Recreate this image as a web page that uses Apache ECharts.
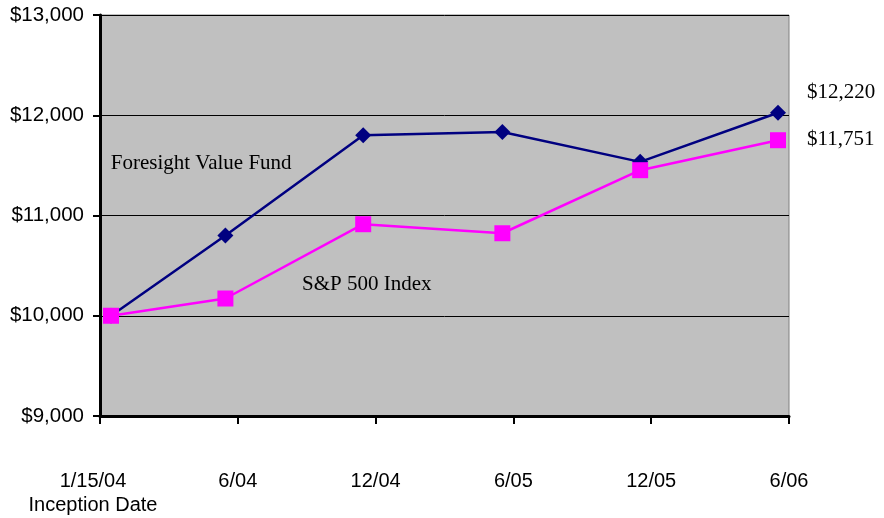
<!DOCTYPE html>
<html>
<head>
<meta charset="utf-8">
<style>
  html, body { margin: 0; padding: 0; background: #fff; }
  #chart-container { width: 884px; height: 518px; }
</style>
<script src="https://cdn.jsdelivr.net/npm/echarts@6/dist/echarts.min.js"></script>
</head>
<body>
<div id="chart-container"></div>
<script>
// tick labels along the bottom (one per half-year tick)
var tickLabels = ['1/15/04\nInception Date', '6/04', '12/04', '6/05', '12/05', '6/06'];
// where each valuation falls along the time axis (in tick units)
var pointPos = [0.08, 0.91, 1.91, 2.92, 3.92, 4.92];
var fundValues = [10000, 10800, 11800, 11833, 11535, 12025];
var spxValues = [10000, 10172, 10913, 10823, 11452, 11751];
var seriesNames = ['Foresight Value Fund', 'S&P 500 Index'];
var endLabels = ['$12,220', '$11,751'];

var dom = document.getElementById('chart-container');
var myChart = echarts.init(dom, null, {
  renderer: 'canvas',
  useDirtyRect: false
});

function pairs(xs, ys) {
  return ys.map(function (v, i) { return [xs[i], v]; });
}

var option = {
  animation: false,
  grid: {
    left: 100, right: 95, top: 15, bottom: 102,
    show: true,
    backgroundColor: '#C0C0C0',
    borderColor: '#808080',
    borderWidth: 1
  },
  xAxis: {
    type: 'value',
    min: 0, max: 5, interval: 1,
    splitLine: { show: false },
    axisLine: { show: true, onZero: false, lineStyle: { color: '#000', width: 3 } },
    axisTick: { show: true, length: 8, lineStyle: { color: '#000', width: 2 } },
    axisLabel: {
      margin: 53,
      color: '#000',
      fontFamily: 'Liberation Sans',
      fontSize: 20,
      lineHeight: 24,
      formatter: function (v) {
        var i = Math.round(v);
        return i === 0 ? '{first|' + tickLabels[i] + '}' : tickLabels[i];
      },
      rich: {
        first: {
          fontFamily: 'Liberation Sans',
          fontSize: 20,
          lineHeight: 24,
          color: '#000',
          padding: [0, 14, 0, 0]
        }
      }
    }
  },
  yAxis: {
    type: 'value',
    min: 9000, max: 13000, interval: 1000,
    splitLine: { show: true, lineStyle: { color: '#000', width: 1 } },
    axisLine: { show: true, lineStyle: { color: '#000', width: 3 } },
    axisTick: { show: true, length: 7, lineStyle: { color: '#000', width: 2 } },
    axisLabel: {
      margin: 16,
      color: '#000',
      fontFamily: 'Liberation Sans',
      fontSize: 20.5,
      formatter: function (v) { return '$' + v.toLocaleString('en-US'); }
    }
  },
  series: [
    {
      name: seriesNames[0],
      type: 'line',
      data: pairs(pointPos, fundValues),
      symbol: 'diamond',
      symbolSize: 16,
      lineStyle: { color: '#000080', width: 2.5 },
      itemStyle: { color: '#000080' },
      z: 3
    },
    {
      name: seriesNames[1],
      type: 'line',
      data: pairs(pointPos, spxValues),
      symbol: 'rect',
      symbolSize: 16,
      lineStyle: { color: '#FF00FF', width: 2.5 },
      itemStyle: { color: '#FF00FF' },
      z: 4
    }
  ]
};

myChart.setOption(option);

// text annotations placed in data space
function textAt(x, y, str) {
  var p = myChart.convertToPixel({ gridIndex: 0 }, [x, y]);
  return {
    type: 'text',
    x: p[0], y: p[1],
    style: {
      text: str,
      fill: '#000',
      font: '21px "Liberation Serif"',
      textAlign: 'left',
      textVerticalAlign: 'middle'
    },
    z: 10
  };
}

myChart.setOption({
  graphic: [
    textAt(0.078, 11521, seriesNames[0]),
    textAt(1.466, 10316, seriesNames[1]),
    textAt(5.13, 12232, endLabels[0]),
    textAt(5.13, 11758, endLabels[1])
  ]
});

window.addEventListener('resize', myChart.resize);
</script>
</body>
</html>
